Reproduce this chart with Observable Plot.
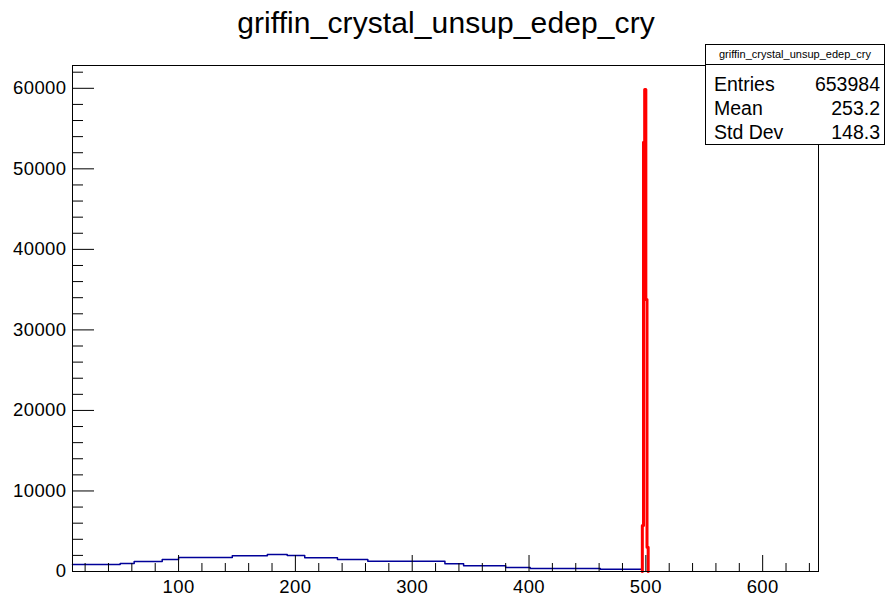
<!DOCTYPE html>
<html><head><meta charset="utf-8">
<script src="https://cdn.jsdelivr.net/npm/d3@7"></script>
<script src="https://cdn.jsdelivr.net/npm/@observablehq/plot@0.6"></script>
<style>
body{margin:0;background:#fff;font-family:"Liberation Sans",Arial,Helvetica,sans-serif;}
#wrap{position:relative;width:886px;height:597px;overflow:hidden;}
#title{position:absolute;left:3px;top:5px;width:886px;text-align:center;font-size:30px;line-height:36px;color:#000;letter-spacing:0.1px;}
#stats{position:absolute;left:705px;top:44px;width:180px;height:101px;border:1px solid #000;background:#fff;box-sizing:border-box;}
#stats .st{height:19px;border-bottom:1px solid #000;text-align:center;font-size:11px;line-height:19px;}
#stats .row{display:flex;justify-content:space-between;padding:0 4px 0 8px;font-size:19.5px;line-height:24px;}
#stats .rows{padding-top:7px;}
</style>
</head><body>
<div id="wrap">
<div id="chart"></div>
<div id="title"></div>
<div id="stats"></div>
</div>
<script>
const histName = "griffin_crystal_unsup_edep_cry";
const statLabels = ["Entries", "Mean", "Std Dev"];
const statValues = ["653984", "253.2", "148.3"];

// continuum (blue), step segments
const blueEdges = [9.2, 50, 62, 86, 100, 146, 176, 193, 208, 236, 262, 328, 344, 380, 401, 461, 497];
const blueCounts = [870, 990, 1240, 1490, 1740, 1950, 2110, 1990, 1700, 1490, 1280, 960, 700, 500, 370, 290];

// photopeak (red)
const peakEdges = [497, 498, 499, 500, 501, 502];
const peakCounts = [5714, 53300, 59840, 33790, 3020];

const xMajor = [100, 200, 300, 400, 500, 600];
const xMinor = d3.range(20, 641, 20).filter(v => v % 100 !== 0);
const yMajor = [0, 10000, 20000, 30000, 40000, 50000, 60000];
const yMinor = d3.range(0, 62001, 2000).filter(v => v % 10000 !== 0);

function stepPoints(edges, counts, closeLeft) {
  const pts = [];
  if (closeLeft) pts.push({x: edges[0], y: 0});
  counts.forEach((c, i) => pts.push({x: edges[i], y: c}));
  pts.push({x: edges[edges.length - 1], y: counts[counts.length - 1]});
  pts.push({x: edges[edges.length - 1], y: 0});
  return pts;
}
const bluePts = stepPoints(blueEdges, blueCounts, false);
const redPts = stepPoints(peakEdges, peakCounts, true);

const W = 886, H = 597, mL = 72, mR = 68, mT = 65, mB = 26;
const fw = W - mL - mR, fh = H - mT - mB;

const plot = Plot.plot({
  width: W, height: H,
  marginLeft: mL, marginRight: mR, marginTop: mT, marginBottom: mB,
  x: {domain: [9.2, 647.8]},
  y: {domain: [0, 62832]},
  style: {fontFamily: "'Liberation Sans', Arial, Helvetica, sans-serif", fontSize: "18.5px", color: "#000", background: "#fff", letterSpacing: "0.4px"},
  marks: [
    Plot.line(bluePts, {x: "x", y: "y", curve: "step-after", stroke: "#000099", strokeWidth: 1.5}),
    Plot.line(redPts, {x: "x", y: "y", curve: "step-after", stroke: "#ff0000", strokeWidth: 3}),
    Plot.tickX(xMajor, {x: d => d, insetTop: fh - 16, stroke: "#000", strokeWidth: 1}),
    Plot.tickX(xMinor, {x: d => d, insetTop: fh - 8, stroke: "#000", strokeWidth: 1}),
    Plot.tickY(yMajor, {y: d => d, insetRight: fw - 22, stroke: "#000", strokeWidth: 1}),
    Plot.tickY(yMinor, {y: d => d, insetRight: fw - 11, stroke: "#000", strokeWidth: 1}),
    Plot.frame({stroke: "#000", strokeWidth: 1}),
    Plot.axisX({ticks: xMajor, tickSize: 0, tickPadding: 8, tickFormat: d => String(d), label: null}),
    Plot.axisY({ticks: yMajor, tickSize: 0, tickPadding: 6, tickFormat: d => String(d), label: null})
  ]
});
document.getElementById("chart").appendChild(plot);
document.getElementById("title").textContent = histName;
const st = document.getElementById("stats");
const t = document.createElement("div"); t.className = "st"; t.textContent = histName; st.appendChild(t);
const rows = document.createElement("div"); rows.className = "rows"; st.appendChild(rows);
statLabels.forEach((l, i) => {
  const r = document.createElement("div"); r.className = "row";
  const a = document.createElement("span"); a.textContent = l;
  const b = document.createElement("span"); b.textContent = statValues[i];
  r.appendChild(a); r.appendChild(b); rows.appendChild(r);
});
</script>
</body></html>
